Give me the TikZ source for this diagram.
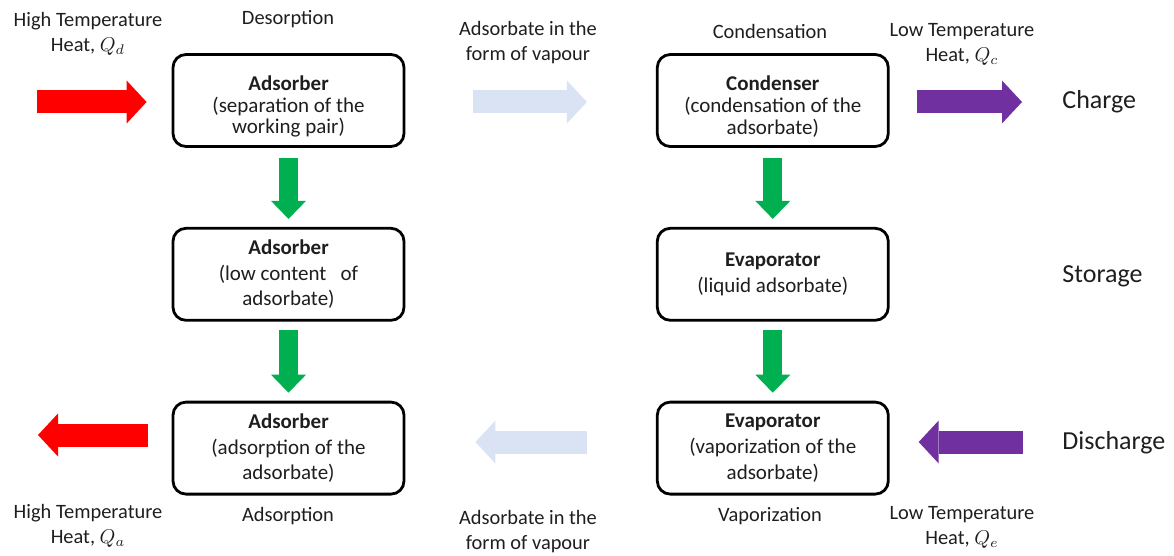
\documentclass[tikz,border=0pt]{standalone}
\usepackage{fontspec}
\setmainfont{Carlito}
\usetikzlibrary{arrows.meta,positioning}
\definecolor{heatred}{RGB}{255,0,0}
\definecolor{vapourblue}{RGB}{218,227,243}
\definecolor{coldpurple}{RGB}{112,48,160}
\definecolor{stagegreen}{RGB}{0,176,80}
\definecolor{inktext}{RGB}{30,30,30}
\tikzset{
  cyclebox/.style={
    rectangle,
    rounded corners=6.5pt,
    draw=black,
    line width=1.4pt,
    align=center,
    text=inktext,
    minimum width=115.5pt,
    minimum height=46pt,
    inner sep=3pt,
    font=\fontsize{10.5}{12.8}\selectfont
  },
  tightbox/.style={
    font=\fontsize{10.5}{10.8}\selectfont
  },
  sidelabel/.style={
    align=center,
    inner sep=0pt,
    text=inktext,
    font=\fontsize{10.2}{12.5}\selectfont
  },
  modelabel/.style={
    anchor=west,
    inner sep=0pt,
    text=inktext,
    font=\fontsize{13}{15}\selectfont
  },
  blockarrow/.style={
    line width=11.5pt,
    -{Triangle[width=21.5pt,length=10pt,line width=0pt]}
  },
  stagearrow/.style={
    draw=stagegreen,
    line width=9.5pt,
    -{Triangle[width=17.5pt,length=9pt,line width=0pt]}
  }
}

\begin{document}
\begin{tikzpicture}[x=0.5pt, y=-0.5pt, node distance=39.5pt and 125.25pt]
\useasboundingbox (0,0) rectangle (1174,556);

% adsorber column
\node[cyclebox, tightbox] (adsDes) at (288.5,100.5) {\rule{0pt}{13.5pt}\textbf{Adsorber}\\(separation of the\\working pair)};
\node[cyclebox, below=of adsDes] (adsLow) {\textbf{Adsorber}\\(low content\ \ \ of\\adsorbate)};
\node[cyclebox, below=of adsLow] (adsAds) {\textbf{Adsorber}\\(adsorption of the\\adsorbate)};

% condenser / evaporator column
\node[cyclebox, tightbox, right=of adsDes] (cond) {\rule{0pt}{13.5pt}\textbf{Condenser}\\(condensation of the\\adsorbate)};
\node[cyclebox, below=of cond] (evapLiq) {\textbf{Evaporator}\\(liquid adsorbate)};
\node[cyclebox, below=of evapLiq] (evapVap) {\textbf{Evaporator}\\(vaporization of the\\adsorbate)};

% labels
\node[sidelabel] (heatD) at (88,34) {High Temperature\\Heat, $Q_d$};
\node[sidelabel] (desorb) at (288,19) {Desorption};
\node[sidelabel] (vapTop) at (528,43) {Adsorbate in the\\form of vapour};
\node[sidelabel] (condLbl) at (770,31) {Condensation};
\node[sidelabel] (heatC) at (962,44) {Low Temperature\\Heat, $Q_c$};
\node[sidelabel] (heatA) at (88,526) {High Temperature\\Heat, $Q_a$};
\node[sidelabel] (adsorb) at (288,516) {Adsorption};
\node[sidelabel] (vapBot) at (528,532) {Adsorbate in the\\form of vapour};
\node[sidelabel] (vapLbl) at (770,516) {Vaporization};
\node[sidelabel] (heatE) at (962,527) {Low Temperature\\Heat, $Q_e$};

\node[modelabel] (charge) at (1062,102) {Charge};
\node[modelabel] (storage) at (1062,276) {Storage};
\node[modelabel] (discharge) at (1062,443) {Discharge};

\coordinate (hotIn) at (37,102);
\coordinate (coldOut) at (1022,102);
\coordinate (hotOut) at (38,435);
\coordinate (coldIn) at (1023,442);

% charge
\draw[blockarrow, draw=heatred, shorten >=12.5pt] (hotIn) -- (adsDes.west |- hotIn);
\draw[blockarrow, draw=vapourblue, shorten <=34pt, shorten >=34.5pt] (adsDes.east |- hotIn) -- (cond.west |- hotIn);
\draw[blockarrow, draw=coldpurple, shorten <=13.5pt] (cond.east |- coldOut) -- (coldOut);

% storage
\draw[stagearrow, shorten <=5pt, shorten >=4pt] (adsDes) -- (adsLow);
\draw[stagearrow, shorten <=4pt, shorten >=4pt] (adsLow) -- (adsAds);
\draw[stagearrow, shorten <=5pt, shorten >=4pt] (cond) -- (evapLiq);
\draw[stagearrow, shorten <=4pt, shorten >=4pt] (evapLiq) -- (evapVap);

% discharge
\draw[blockarrow, draw=coldpurple, shorten >=14.5pt] (coldIn) -- (evapVap.east |- coldIn);
\draw[blockarrow, draw=vapourblue, shorten <=34.5pt, shorten >=35pt] (evapVap.west |- coldIn) -- (adsAds.east |- coldIn);
\draw[blockarrow, draw=heatred, shorten <=12pt] (adsAds.west |- hotOut) -- (hotOut);
\end{tikzpicture}
\end{document}
